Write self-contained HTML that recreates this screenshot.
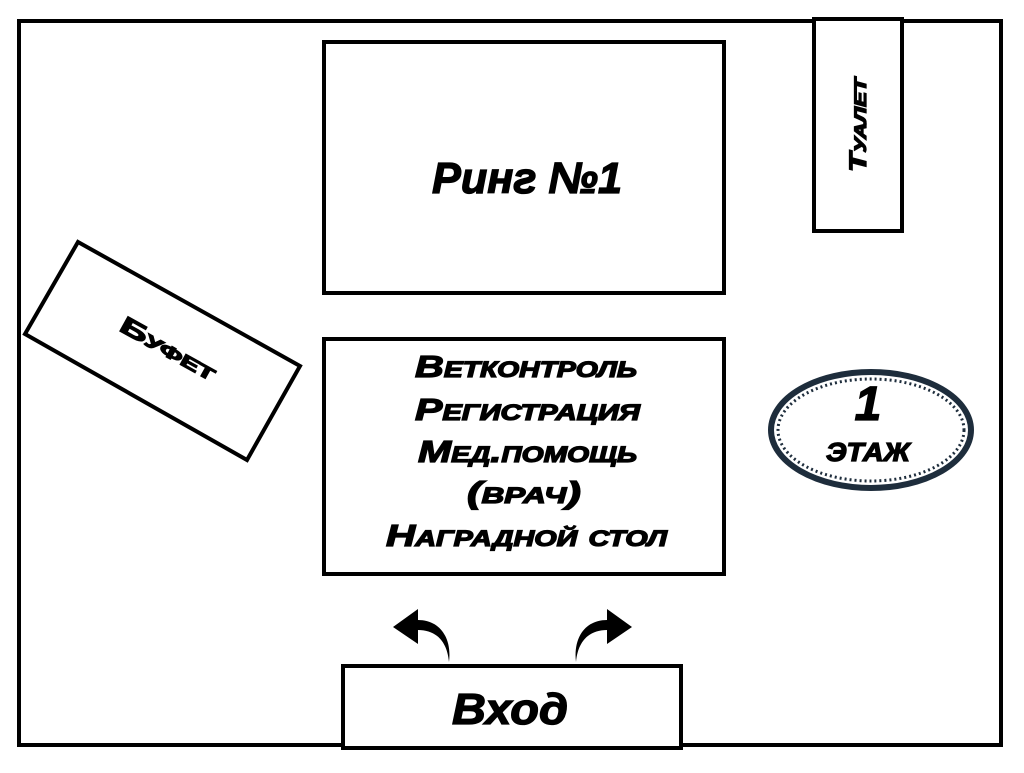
<!DOCTYPE html>
<html><head><meta charset="utf-8"><style>
body{margin:0;background:#fff;}
svg text{font-family:"Liberation Sans",sans-serif;font-weight:bold;font-style:italic;fill:#000;stroke:#000;stroke-width:1.3;}
</style></head><body>
<svg width="1024" height="768" viewBox="0 0 1024 768" xmlns="http://www.w3.org/2000/svg">
<rect width="1024" height="768" fill="#fff"/>
<rect x="19" y="21" width="982" height="724" fill="none" stroke="#000" stroke-width="4"/>
<rect x="324" y="42" width="400" height="251" fill="#fff" stroke="#000" stroke-width="4"/>
<text x="432" y="193" font-size="44" textLength="190" lengthAdjust="spacingAndGlyphs">Ринг №1</text>
<rect x="814" y="19" width="88" height="212" fill="#fff" stroke="#000" stroke-width="4"/>
<text transform="translate(866,172) rotate(-90)" font-size="24" textLength="94" lengthAdjust="spacingAndGlyphs" style="font-variant:small-caps">Туалет</text>
<polygon points="78,242 300,366 247,460 25,334" fill="#fff" stroke="#000" stroke-width="4"/>
<text transform="translate(118,330) rotate(29)" font-size="24" textLength="106" lengthAdjust="spacingAndGlyphs" style="font-variant:small-caps;font-style:normal">Буфет</text>
<rect x="324" y="339" width="400" height="235" fill="#fff" stroke="#000" stroke-width="4"/>
<g font-size="31" style="font-variant:small-caps">
<text x="415" y="377" textLength="222" lengthAdjust="spacingAndGlyphs">Ветконтроль</text>
<text x="415" y="420" textLength="225" lengthAdjust="spacingAndGlyphs">Регистрация</text>
<text x="418" y="462" textLength="219" lengthAdjust="spacingAndGlyphs">Мед.помощь</text>
<text x="467" y="503" textLength="114" lengthAdjust="spacingAndGlyphs">(врач)</text>
<text x="386" y="546" textLength="281" lengthAdjust="spacingAndGlyphs">Наградной стол</text>
</g>
<ellipse cx="871" cy="430" rx="100" ry="58" fill="#fff" stroke="#1e2d3c" stroke-width="6"/>
<ellipse cx="871" cy="430" rx="93" ry="51" fill="none" stroke="#1e2d3c" stroke-width="3" stroke-dasharray="2 3"/>
<text x="868" y="420" font-size="48" text-anchor="middle">1</text>
<text x="826" y="461" font-size="26" textLength="84" lengthAdjust="spacingAndGlyphs">ЭТАЖ</text>
<rect x="343" y="666" width="338" height="82" fill="#fff" stroke="#000" stroke-width="4"/>
<text x="452" y="724" font-size="44" textLength="116" lengthAdjust="spacingAndGlyphs">Вход</text>
<path d="M449,662 C447,640 435,630 418,630 L418,644 L393,627 L418,609 L418,620 C440,620 452,638 449,662 Z" fill="#000"/>
<path d="M576,662 C578,640 590,630 607,630 L607,644 L632,627 L607,609 L607,620 C585,620 573,638 576,662 Z" fill="#000"/>
</svg>
</body></html>
